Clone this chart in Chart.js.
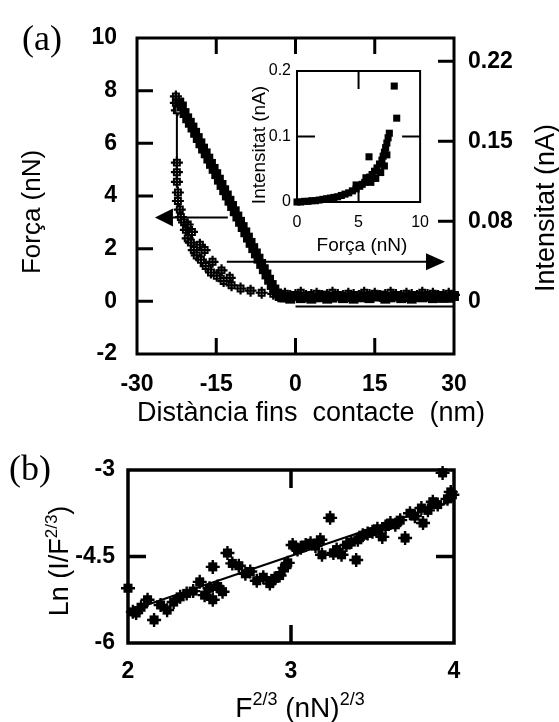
<!DOCTYPE html>
<html><head><meta charset="utf-8">
<script src="https://cdn.jsdelivr.net/npm/chart.js@4.4.1/dist/chart.umd.min.js"></script>
<style>
html,body{margin:0;padding:0;background:#fff;}
#wrap{position:relative;width:559px;height:722px;overflow:hidden;}
canvas{position:absolute;}
</style></head><body>
<div id="wrap">
<canvas id="ca" width="559" height="430" style="left:0;top:0;width:559px;height:430px"></canvas>
<canvas id="ci" width="200" height="210" style="left:240px;top:50px;width:200px;height:210px"></canvas>
<canvas id="cb" width="559" height="292" style="left:0;top:430px;width:559px;height:292px"></canvas>
</div>
<script>
// ---------- Panel (a) data ----------
const distForce = [-22.0,-21.5,-21.0,-20.5,-20.0,-19.5,-19.0,-18.5,-18.0,-17.5,-17.0,-16.5,-16.0,-15.5,-15.0,-14.5,-14.0,-13.5,-13.0,-12.5,-12.0,-11.5,-11.0,-10.5,-10.0,-9.5,-9.0,-8.5,-8.0,-7.5,-7.0,-6.5,-6.0,-5.5,-5.0,-4.5,-4.0,-3.5,-3.0,-2.5,
  -2,-1,0,1,2,3,4,5,6,7,8,9,10,11,12,13,14,15,16,17,18,19,20,21,22,23,24,25,26,27,28,29,30];
const force = [7.55,7.40,7.15,6.95,6.78,6.60,6.40,6.20,6.00,5.80,5.62,5.42,5.22,5.03,4.83,4.62,4.42,4.22,4.02,3.82,3.62,3.42,3.22,3.02,2.82,2.62,2.42,2.22,2.02,1.82,1.62,1.42,1.22,1.02,0.82,0.62,0.45,0.30,0.20,0.15,
  0.15,0.10,0.20,0.12,0.18,0.10,0.15,0.22,0.10,0.14,0.20,0.12,0.16,0.10,0.20,0.15,0.12,0.18,0.22,0.10,0.15,0.20,0.12,0.16,0.10,0.20,0.15,0.18,0.12,0.20,0.14,0.16,0.20];
const distRetract = [-21.9,-22.45,-22.45];
const forceRetract = [7.3,7.0,5.3];
const distBase = [0,30];
const forceBase = [-0.2,-0.2];
const distCurrent = [-22.64,-22.64,-22.45,-22.45,-22.45,-22.45,-22.26,-22.26,-21.9,-21.7,-21.1,-20.75,-20.4,-19.8,-19.25,-18.7,-17.9,-17.0,-16.0,-14.9,-13.6,-12.1,-10.4,-8.5,-6.4,-4.2,
  -20.4,-19.6,-18.1,-17.2,-15.7,-14.0,-12.45,
  -3,-2,-1,0,1,2,3,4,5,6,7,8,9,10,11,12,13,14,15,16,17,18,19,20,21,22,23,24,25,26,27,28,29,30];
const current = [0.192,0.186,0.179,0.130,0.121,0.112,0.102,0.094,0.086,0.079,0.074,0.067,0.059,0.055,0.048,0.043,0.039,0.033,0.027,0.024,0.019,0.015,0.012,0.010,0.008,0.007,
  0.072,0.065,0.053,0.048,0.037,0.029,0.022,
  0.006,0.007,0.005,0.006,0.008,0.005,0.006,0.007,0.005,0.006,0.008,0.006,0.005,0.007,0.006,0.005,0.008,0.006,0.007,0.005,0.006,0.008,0.006,0.005,0.007,0.006,0.005,0.008,0.006,0.007,0.005,0.006,0.007,0.006];
const arrowLeftD = [-12.8,-26.6], arrowLeftF = [3.18,3.18];
const arrowRightD = [-13.0,28.3], arrowRightF = [1.5,1.5];
const xTicksA = [-30,-15,0,15,30];
const yTicksA = [-2,0,2,4,6,8,10];
const y2TicksA = [0,0.075,0.15,0.225];
const y2LabelsA = ['0','0.08','0.15','0.22'];

// ---------- Inset data ----------
const insetForce = [0,0.3,0.6,0.9,1.2,1.5,1.8,2.1,2.4,2.7,3.0,3.3,3.6,3.9,4.2,4.5,4.8,5.1,5.3,5.5,5.7,5.9,6.1,6.3,6.5,6.7,6.9,7.0,7.1,7.2,7.3,7.4,7.5,5.85,7.9,8.1,6.0,6.4,6.8,7.1,7.3,4.8,5.6];
const insetCurrent = [0.0,0.0,0.001,0.001,0.002,0.002,0.003,0.004,0.005,0.006,0.007,0.008,0.010,0.012,0.014,0.017,0.020,0.024,0.027,0.030,0.034,0.038,0.042,0.047,0.052,0.058,0.064,0.070,0.076,0.083,0.090,0.098,0.105,0.069,0.177,0.128,0.030,0.036,0.045,0.055,0.072,0.026,0.037];
const xTicksI = [0,5,10];
const yTicksI = [0,0.1,0.2];

// ---------- Panel (b) data ----------
const fB = [2.00,2.03,2.05,2.08,2.12,2.16,2.20,2.24,2.28,2.32,2.36,2.40,2.44,2.47,2.50,2.52,2.55,2.58,2.52,2.61,2.64,2.68,2.72,2.75,2.79,2.83,2.87,2.90,2.93,2.96,2.98,3.01,3.04,3.06,3.09,3.12,3.15,3.18,3.19,3.24,3.26,3.28,3.31,3.34,3.37,3.40,3.41,3.44,3.47,3.50,3.53,3.56,3.58,3.61,3.64,3.67,3.70,3.73,3.76,3.80,3.81,3.84,3.87,3.90,3.93,3.96,3.98,3.99];
const lnB = [-5.05,-5.46,-5.48,-5.38,-5.25,-5.60,-5.34,-5.43,-5.29,-5.20,-5.14,-5.10,-4.94,-5.17,-5.05,-5.25,-5.02,-5.11,-4.68,-4.44,-4.62,-4.66,-4.80,-4.76,-4.92,-4.86,-4.97,-4.88,-4.83,-4.70,-4.61,-4.30,-4.38,-4.35,-4.30,-4.27,-4.32,-4.21,-4.47,-3.83,-4.44,-4.38,-4.47,-4.30,-4.25,-4.56,-4.21,-4.13,-4.10,-4.07,-4.02,-4.16,-3.98,-3.92,-3.95,-3.87,-4.18,-3.75,-3.80,-3.66,-3.92,-3.70,-3.55,-3.60,-3.05,-3.50,-3.38,-3.43];
const fFit = [2.0,4.0];
const lnFit = [-5.45,-3.53];
const xTicksB = [2,3,4];
const yTicksB = [-6,-4.5,-3];

// ---------- helpers ----------
const zip = (a,b) => a.map((v,i)=>({x:v,y:b[i]}));
const SANS = 'Liberation Sans, Arial, sans-serif';
const SERIF = 'Liberation Serif, Times New Roman, serif';
Chart.defaults.font.family = SANS;
Chart.defaults.color = '#000';

function setTicks(arr){ return s => { s.ticks = arr.map(v=>({value:v})); }; }
const noGrid = {display:false, drawTicks:false, tickLength:0};

function framePlugin(lw, len, tickSpec){
  return { id:'frame', afterDatasetsDraw(chart){
    const {ctx, chartArea:a, scales} = chart;
    ctx.save(); ctx.strokeStyle='#000'; ctx.lineWidth=lw; ctx.lineCap='square';
    ctx.strokeRect(a.left,a.top,a.right-a.left,a.bottom-a.top);
    ctx.lineCap='butt';
    ctx.beginPath();
    tickSpec.forEach(t=>{
      const sc = scales[t.scale];
      t.values.forEach(v=>{
        const p = sc.getPixelForValue(v);
        if (t.side==='left'){ ctx.moveTo(a.left,p); ctx.lineTo(a.left+len,p); }
        if (t.side==='right'){ ctx.moveTo(a.right,p); ctx.lineTo(a.right-len,p); }
        if (t.side==='top'){ ctx.moveTo(p,a.top); ctx.lineTo(p,a.top+len); }
        if (t.side==='bottom'){ ctx.moveTo(p,a.bottom); ctx.lineTo(p,a.bottom-len); }
      });
    });
    ctx.stroke(); ctx.restore();
  }};
}

function drawRich(ctx, parts, x, y, size, supSize, rotate){
  ctx.save();
  ctx.translate(x,y);
  if (rotate) ctx.rotate(-Math.PI/2);
  let total=0;
  parts.forEach(p=>{ ctx.font = (p.sup?supSize:size)+'px '+SANS; p.w = ctx.measureText(p.t).width; total+=p.w; });
  let cx = -total/2;
  ctx.fillStyle='#000'; ctx.textBaseline='alphabetic'; ctx.textAlign='left';
  parts.forEach(p=>{ ctx.font = (p.sup?supSize:size)+'px '+SANS; ctx.fillText(p.t, cx, p.sup ? -size*0.42 : 0); cx+=p.w; });
  ctx.restore();
}

function arrow(ctx, x1,y1,x2,y2, hl, hw){
  const dir = Math.sign(x2-x1);
  ctx.beginPath(); ctx.moveTo(x1,y1); ctx.lineTo(x2 - dir*hl*0.8, y2); ctx.stroke();
  ctx.beginPath(); ctx.moveTo(x2,y2); ctx.lineTo(x2-dir*hl, y2-hw/2); ctx.lineTo(x2-dir*hl, y2+hw/2); ctx.closePath(); ctx.fill();
}

const tickFont = {size:23, weight:'bold', family:SANS};
const common = { responsive:false, animation:false, events:[], devicePixelRatio:1,
  plugins:{legend:{display:false}, tooltip:{enabled:false}} };

// ---------- Chart (a) ----------
new Chart(document.getElementById('ca'), {
  type:'scatter',
  data:{datasets:[
    {data:zip(distForce,force), yAxisID:'y', showLine:true, borderColor:'#000', borderWidth:4, pointStyle:'rect', pointRadius:7, pointBackgroundColor:'#000', pointBorderWidth:0, clip:false},
    {data:zip(distRetract,forceRetract), yAxisID:'y', showLine:true, borderColor:'#000', borderWidth:2, pointStyle:'rect', pointRadius:[5.5,0,0], pointBackgroundColor:'#fff', pointBorderColor:'#000', pointBorderWidth:1.5, clip:false},
    {data:zip(distBase,forceBase), yAxisID:'y', showLine:true, borderColor:'#000', borderWidth:2, pointRadius:0, clip:false},
    {data:zip(distCurrent,current), yAxisID:'y2', showLine:false, pointStyle:'cross', pointRadius:6, pointBorderColor:'#000', pointBorderWidth:2.2, clip:false},
    {data:zip(distCurrent,current), yAxisID:'y2', showLine:false, pointStyle:'rect', pointRadius:4.2, pointBackgroundColor:'#fff', pointBorderColor:'#000', pointBorderWidth:2, clip:false}
  ]},
  options:{...common,
    layout:{padding:{top:38,left:0,right:0,bottom:0}},
    scales:{
      x:{type:'linear', position:'bottom', min:-30, max:30, bounds:'data', afterBuildTicks:setTicks(xTicksA), afterFit:s=>{s.height=76;},
         grid:noGrid, border:{display:false}, ticks:{padding:17, font:tickFont, color:'#000', maxRotation:0, autoSkip:false}},
      y:{type:'linear', position:'left', min:-2, max:10, bounds:'data', afterBuildTicks:setTicks(yTicksA), afterFit:s=>{s.width=137;},
         grid:noGrid, border:{display:false}, ticks:{padding:20, font:tickFont, color:'#000', autoSkip:false}},
      y2:{type:'linear', position:'right', min:-0.0494, max:0.2468, bounds:'data', afterBuildTicks:setTicks(y2TicksA), afterFit:s=>{s.width=105;},
         grid:noGrid, border:{display:false}, ticks:{padding:14, font:tickFont, color:'#000', autoSkip:false,
         callback:(v)=>y2LabelsA[y2TicksA.indexOf(v)]}}
    }
  },
  plugins:[
    framePlugin(3,16,[
      {scale:'y',side:'left',values:[0,2,4,6,8]},
      {scale:'y2',side:'right',values:y2TicksA},
      {scale:'x',side:'top',values:[-15,0,15]},
      {scale:'x',side:'bottom',values:[-15,0,15]}
    ]),
    {id:'annA', afterDraw(chart){
      const {ctx, scales} = chart;
      ctx.save(); ctx.strokeStyle='#000'; ctx.fillStyle='#000'; ctx.lineWidth=2;
      const X=scales.x, Y=scales.y;
      arrow(ctx, X.getPixelForValue(arrowLeftD[0]), Y.getPixelForValue(arrowLeftF[0]), X.getPixelForValue(arrowLeftD[1]), Y.getPixelForValue(arrowLeftF[1]), 18, 18);
      arrow(ctx, X.getPixelForValue(arrowRightD[0]), Y.getPixelForValue(arrowRightF[0]), X.getPixelForValue(arrowRightD[1]), Y.getPixelForValue(arrowRightF[1]), 19, 17);
      ctx.restore();
      ctx.save(); ctx.fillStyle='#000';
      ctx.font='36px '+SERIF; ctx.textAlign='left'; ctx.textBaseline='alphabetic';
      ctx.fillText('(a)', 22, 50);
      ctx.restore();
      drawRich(ctx,[{t:'Força (nN)'}], 40, 212, 26, 16, true);
      drawRich(ctx,[{t:'Intensitat (nA)'}], 554, 208, 27, 16, true);
      drawRich(ctx,[{t:'Distància fins  contacte  (nm)'}], 311, 421, 27, 16, false);
    }}
  ]
});

// ---------- Inset ----------
const insetFont = {size:16, family:SANS};
new Chart(document.getElementById('ci'), {
  type:'scatter',
  data:{datasets:[
    {data:zip(insetForce,insetCurrent), showLine:false, pointStyle:'rect', pointRadius:5, pointBackgroundColor:'#000', pointBorderWidth:0, clip:false}
  ]},
  options:{...common,
    layout:{padding:{top:21,left:0,right:13,bottom:0}},
    scales:{
      x:{type:'linear', position:'bottom', min:0, max:10, bounds:'data', afterBuildTicks:setTicks(xTicksI), afterFit:s=>{s.height=58;},
         grid:noGrid, border:{display:false}, ticks:{padding:11, font:insetFont, color:'#000', maxRotation:0, autoSkip:false}},
      y:{type:'linear', position:'left', min:0, max:0.2, bounds:'data', afterBuildTicks:setTicks(yTicksI), afterFit:s=>{s.width=57;},
         grid:noGrid, border:{display:false}, ticks:{padding:6, font:insetFont, color:'#000', autoSkip:false}}
    }
  },
  plugins:[
    framePlugin(2,18,[
      {scale:'y',side:'left',values:[0.1]},
      {scale:'y',side:'right',values:[0.1]},
      {scale:'x',side:'top',values:[5]},
      {scale:'x',side:'bottom',values:[5]}
    ]),
    {id:'annI', afterDraw(chart){
      const {ctx} = chart;
      drawRich(ctx,[{t:'Força (nN)'}], 122, 201, 19, 12, false);
      drawRich(ctx,[{t:'Intensitat (nA)'}], 25, 95, 19, 12, true);
    }}
  ]
});

// ---------- Chart (b) ----------
new Chart(document.getElementById('cb'), {
  type:'scatter',
  data:{datasets:[
    {data:zip(fB,lnB), showLine:false, pointStyle:'cross', pointRadius:7, pointBorderColor:'#000', pointBorderWidth:2.4, clip:false},
    {data:zip(fB,lnB), showLine:false, pointStyle:'rect', pointRadius:6.4, pointBackgroundColor:'#000', pointBorderWidth:0, clip:false},
    {data:zip(fFit,lnFit), showLine:true, borderColor:'#000', borderWidth:2, pointRadius:0, clip:false}
  ]},
  options:{...common,
    layout:{padding:{top:40,left:0,right:105,bottom:0}},
    scales:{
      x:{type:'linear', position:'bottom', min:2, max:4, bounds:'data', afterBuildTicks:setTicks(xTicksB), afterFit:s=>{s.height=79;},
         grid:noGrid, border:{display:false}, ticks:{padding:15, font:tickFont, color:'#000', maxRotation:0, autoSkip:false}},
      y:{type:'linear', position:'left', min:-6, max:-3, bounds:'data', afterBuildTicks:setTicks(yTicksB), afterFit:s=>{s.width=128;},
         grid:noGrid, border:{display:false}, ticks:{padding:13, font:tickFont, color:'#000', autoSkip:false}}
    }
  },
  plugins:[
    framePlugin(3.5,18,[
      {scale:'y',side:'left',values:[-4.5]},
      {scale:'y',side:'right',values:[-4.5]},
      {scale:'x',side:'top',values:[3]},
      {scale:'x',side:'bottom',values:[3]}
    ]),
    {id:'annB', afterDraw(chart){
      const {ctx} = chart;
      ctx.save(); ctx.fillStyle='#000';
      ctx.font='36px '+SERIF; ctx.textAlign='left'; ctx.textBaseline='alphabetic';
      ctx.fillText('(b)', 9, 50);
      ctx.restore();
      drawRich(ctx,[{t:'Ln (I/F'},{t:'2/3',sup:true},{t:')'}], 68, 131, 27, 17, true);
      drawRich(ctx,[{t:'F'},{t:'2/3',sup:true},{t:' (nN)'},{t:'2/3',sup:true}], 300, 287, 28, 18, false);
    }}
  ]
});
</script>
</body></html>
